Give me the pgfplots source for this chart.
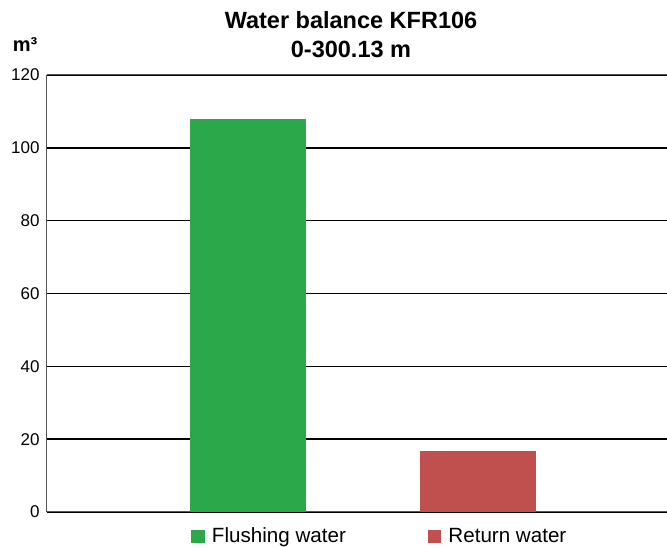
\documentclass[border=0pt]{standalone}
\usepackage{pgfplots}
\pgfplotsset{compat=1.18}
\usepackage{fontspec}
\setmainfont{Liberation Sans}
\definecolor{fgreen}{HTML}{2AA84A}
\definecolor{rred}{HTML}{C0504D}
\definecolor{axgray}{HTML}{555555}
\begin{document}
\begin{tikzpicture}
\begin{axis}[
  scale only axis,
  width=620pt, height=437pt,
  xmin=-0.874, xmax=1.82,
  ymin=0, ymax=120,
  ytick={0,20,...,120},
  xtick=\empty,
  ybar, bar width=116pt, bar shift=0pt,
  major tick length=0pt,
  ymajorgrids,
  major grid style={black, line width=1.6pt},
  axis x line*=bottom,
  axis y line*=left,
  axis line style={axgray, line width=1pt},
  tick label style={font=\fontsize{17}{19}\selectfont},
  /pgf/number format/assume math mode=true,
  yticklabel style={xshift=-4pt},
  legend style={at={(0.537,-0.055)}, anchor=center, draw=none, fill=none,
    legend columns=2, font=\fontsize{20.6}{22}\selectfont,
    /tikz/every odd column/.append style={column sep=5pt},
    /tikz/every even column/.append style={column sep=80pt}},
  legend image code/.code={\fill[#1,draw=none] (0pt,-6.5pt) rectangle (13.5pt,6.5pt);},
]
\addplot[fill=fgreen, draw=none] coordinates {(0,108)};
\addlegendentry{Flushing water}
\addplot[fill=rred, draw=none] coordinates {(1,16.7)};
\addlegendentry{Return water}
\draw[axgray, line width=1pt] (rel axis cs:0,1) -- (rel axis cs:1,1);
\end{axis}
\node[font=\bfseries\fontsize{23.5}{28}\selectfont, anchor=base]
  at ([xshift=-6pt,yshift=46pt]current axis.north) {Water balance KFR106};
\node[font=\bfseries\fontsize{23.5}{28}\selectfont, anchor=base]
  at ([xshift=-6pt,yshift=17pt]current axis.north) {0-300.13 m};
\node[font=\bfseries\fontsize{20}{22}\selectfont, anchor=base] at ([xshift=-22pt,yshift=23pt]current axis.north west) {m³};
\pgfresetboundingbox
\path[use as bounding box] ([xshift=-47pt,yshift=-36pt]current axis.south west) rectangle ([yshift=75pt]current axis.north east);
\end{tikzpicture}
\end{document}
